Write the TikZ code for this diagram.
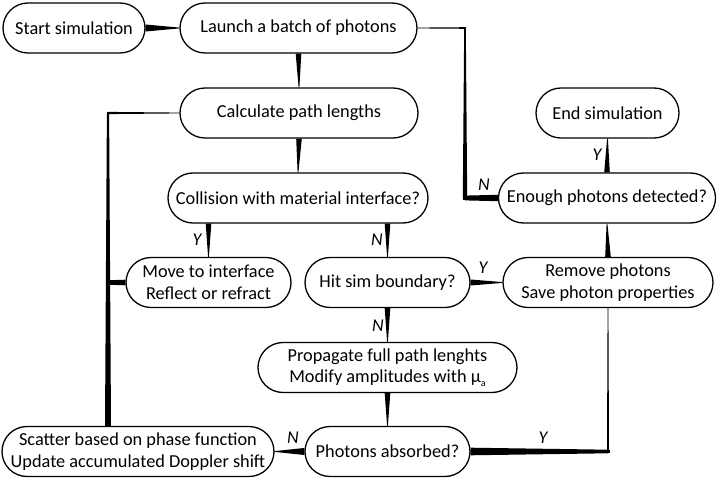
\documentclass[tikz,border=0pt]{standalone}
\usepackage{fontspec}
\setmainfont{Carlito}
\usetikzlibrary{calc,positioning}
\def\taper(#1)(#2)(#3:#4){\fill ($(#1)!#3!90:(#2)$) -- ($(#2)!#4!-90:(#1)$) -- ($(#2)!#4!90:(#1)$) -- ($(#1)!#3!-90:(#2)$) -- cycle;}
\def\corner(#1)(#2){\fill ($(#1)+(-#2,-#2)$) rectangle ($(#1)+(#2,#2)$);}
\tikzset{
	box/.style={draw, line width=1.3pt, rectangle, rounded corners=25pt, minimum height=50pt, inner sep=2pt, align=center, font=\fontsize{18.3}{21.5}\selectfont},
	yn/.style={inner sep=0pt, font=\itshape\fontsize{18}{18}\selectfont}
}
\begin{document}
\begin{tikzpicture}[x=1pt, y=-1pt]
			%%%%% START %%%%%
			\useasboundingbox (0, 0) rectangle (721, 481);
			
			\node[box, minimum width=142pt] (start) at (74, 28) {Start simulation};
			\node[box, minimum width=237pt] (launch) at (298.5, 28) {Launch a batch of photons};
			\node[box, minimum width=238pt] (calc) at (299, 113) {Calculate path lengths};
			\node[box, minimum width=143pt] (endsim) at (607.5, 113) {End simulation};
			\node[box, minimum width=260pt] (coll) at (298, 198) {Collision with material interface?};
			\node[box, minimum width=217pt] (enough) at (607, 198) {Enough photons detected?};
			\node[box, minimum width=165pt] (move) at (208.5, 282.5) {Move to interface\\Reflect or refract};
			\node[box, minimum width=165pt] (hit) at (387.5, 282.5) {Hit sim boundary?};
			\node[box, minimum width=210pt] (remove) at (608, 282.5) {Remove photons\\Save photon properties};
			\node[box, minimum width=259pt] (prop) at (387.5, 367.5) {Propagate full path lenghts\\Modify amplitudes with μ\raisebox{-4pt}{\fontsize{10}{10}\selectfont a}};
			\node[box, minimum width=272pt] (scatter) at (138, 451.5) {Scatter based on phase function\\Update accumulated Doppler shift};
			\node[box, minimum width=165pt] (absorbed) at (387.5, 451.5) {Photons absorbed?};
			
			\node[yn] (yMove) at (197, 240) {Y};
			\node[yn] (nHit) at (377, 240) {N};
			\node[yn] (nProp) at (378, 326) {N};
			\node[yn] (nScatter) at (293, 438) {N};
			\node[yn] (yAbsorbed) at (543, 438) {Y};
			\node[yn] (yRemove) at (483, 268) {Y};
			\node[yn] (nEnough) at (484, 185) {N};
			\node[yn] (yEnd) at (597, 155) {Y};
			
			\coordinate (lft) at (108, 0);
			\coordinate (rgt) at (465, 0);
			\coordinate (cm) at (move.north |- coll.south);
			\coordinate (ch) at (hit.north |- coll.south);
			\coordinate (s1) at (lft |- scatter.north);
			\coordinate (s2) at (lft |- calc.west);
			\coordinate (m1) at (lft |- move.west);
			\coordinate (n1) at (rgt |- enough.west);
			\coordinate (n2) at (rgt |- launch.east);
			\coordinate (a1) at (remove.south |- absorbed.east);
			
			\taper(start.east)(launch.west)(3.5pt:0.4pt)
			\taper(launch.south)(calc.north)(2.8pt:0.4pt)
			\taper(calc.south)(coll.north)(2.8pt:0.4pt)
			\taper(cm)(move.north)(2.8pt:0.4pt)
			\taper(ch)(hit.north)(2.8pt:0.4pt)
			\taper(hit.south)(prop.north)(2.8pt:0.4pt)
			\taper(prop.south)(absorbed.north)(2.8pt:0.4pt)
			\taper(absorbed.west)(scatter.east)(3.5pt:0.4pt)
			\taper(hit.east)(remove.west)(3pt:0.4pt)
			\taper(remove.north)(enough.south)(2.8pt:0.4pt)
			\taper(enough.north)(endsim.south)(2.8pt:0.4pt)
			
			% back to the start of the loop
			\taper(s1)(s2)(3pt:1.1pt)
			\corner(s2)(1.1)
			\taper(s2)(calc.west)(1.1pt:0.4pt)
			\taper(move.west)(m1)(2.8pt:2.2pt)
			
			% not enough photons yet
			\taper(enough.west)(n1)(3.2pt:2.4pt)
			\corner(n1)(2.4)
			\taper(n1)(n2)(2.2pt:0.8pt)
			\corner(n2)(0.8)
			\taper(n2)(launch.east)(0.8pt:0.4pt)
			
			% absorbed photons are removed
			\taper(absorbed.east)(a1)(3.8pt:1.8pt)
			\corner(a1)(1.8)
			\taper(a1)(remove.south)(1pt:0.4pt)
			
			%%%%% END %%%%%
\end{tikzpicture}
\end{document}
